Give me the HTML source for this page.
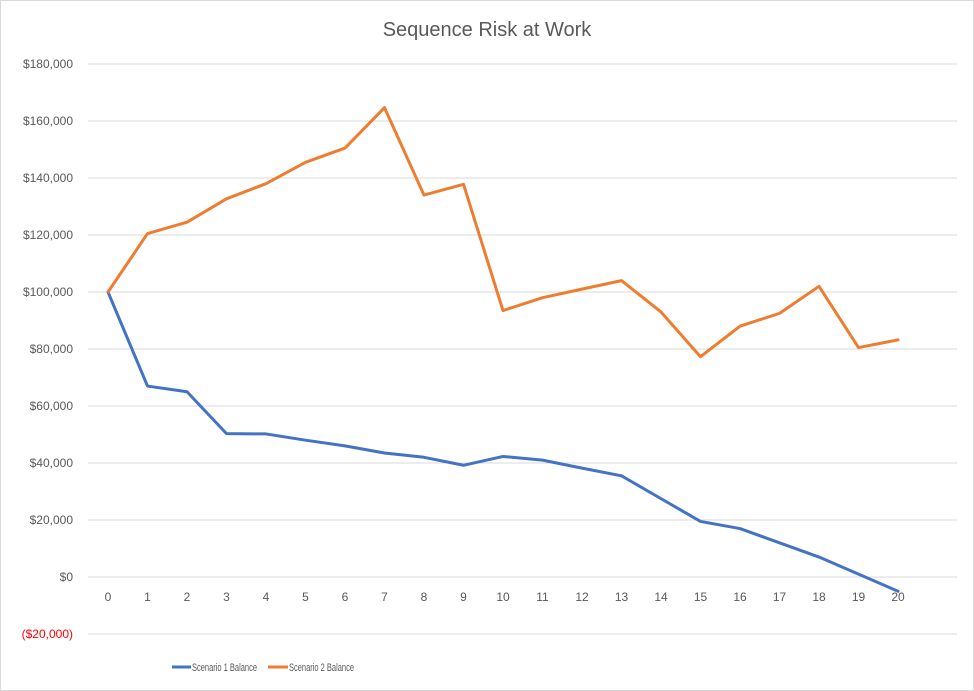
<!DOCTYPE html>
<html><head><meta charset="utf-8"><style>
body{margin:0;background:#fff;}
svg{display:block;font-family:"Liberation Sans",sans-serif;}
</style></head><body>
<svg id="chart" width="974" height="691">
<rect x="0.5" y="0.5" width="973" height="690" fill="#fff" stroke="#d9d9d9"/>
<text x="487" y="36" text-anchor="middle" font-size="20" fill="#595959">Sequence Risk at Work</text>
<g id="grid"></g><g id="ylabels"></g><g id="xlabels"></g><g id="series"></g>
<g>
<line x1="172" y1="667" x2="191" y2="667" stroke="#4472c4" stroke-width="3"/>
<text x="192" y="671" font-size="11" fill="#595959" textLength="65" lengthAdjust="spacingAndGlyphs">Scenario 1 Balance</text>
<line x1="268" y1="667" x2="288" y2="667" stroke="#ed7d31" stroke-width="3"/>
<text x="289" y="671" font-size="11" fill="#595959" textLength="65" lengthAdjust="spacingAndGlyphs">Scenario 2 Balance</text>
</g>
</svg>
<script>
const categories=[0,1,2,3,4,5,6,7,8,9,10,11,12,13,14,15,16,17,18,19,20];
const scenario1=[100000,67000,65000,50300,50200,48000,46000,43500,42000,39200,42300,41000,38200,35500,27500,19500,17000,12000,7000,1000,-5000];
const scenario2=[100000,120500,124500,132700,138000,145500,150500,164700,134000,137800,93500,98000,101000,104000,93000,77300,88000,92500,102000,80500,83200];
const yTicks=[-20000,0,20000,40000,60000,80000,100000,120000,140000,160000,180000];
const NS="http://www.w3.org/2000/svg";
function y(v){return 577-v/20000*57;}
function x(i){return 108+i*39.5;}
function mk(t,a,p){const e=document.createElementNS(NS,t);for(const k in a)e.setAttribute(k,a[k]);p.appendChild(e);return e;}
const grid=document.getElementById('grid'),yl=document.getElementById('ylabels'),xl=document.getElementById('xlabels'),ser=document.getElementById('series');
yTicks.forEach(v=>{
 const l=mk('line',{x1:88,x2:957,y1:y(v),y2:y(v),stroke:'#d9d9d9','stroke-width':1},grid);
 
 
 const neg=v<0;
 const s=neg?'($'+Math.abs(v).toLocaleString('en-US')+')':'$'+v.toLocaleString('en-US');
 const t=mk('text',{x:73,y:y(v)+4,'text-anchor':'end','font-size':12,fill:neg?'#ff0000':'#595959'},yl);
 t.textContent=s;
 
 
});
categories.forEach((c,i)=>{
 const t=mk('text',{x:x(i),y:601,'text-anchor':'middle','font-size':12,fill:'#595959'},xl);
 t.textContent=c;
 
 
});
function line(d,col,name){
 const p=mk('polyline',{points:d.map((v,i)=>x(i)+','+y(v)).join(' '),fill:'none',stroke:col,'stroke-width':3,'stroke-linejoin':'round','stroke-linecap':'round'},ser);
 
 
}
line(scenario1,'#4472c4','scenario-1-line');
line(scenario2,'#ed7d31','scenario-2-line');
</script>
</body></html>
